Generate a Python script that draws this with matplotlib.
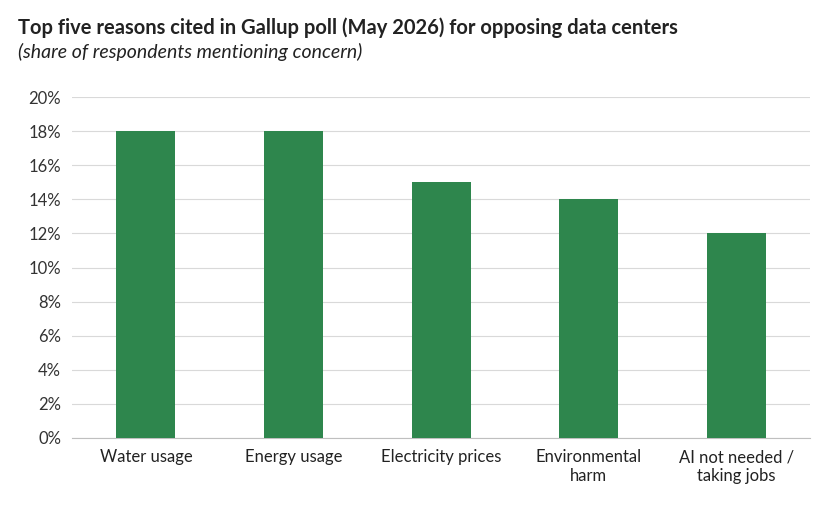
import matplotlib.pyplot as plt

reasons = ["Water usage", "Energy usage", "Electricity prices",
           "Environmental\nharm", "AI not needed /\ntaking jobs"]
shares = [18, 18, 15, 14, 12]
yticks = list(range(0, 21, 2))

plt.rcParams["font.family"] = ["Lato", "DejaVu Sans"]

fig = plt.figure(figsize=(8.2, 5.11), dpi=100)
ax = fig.add_axes([0.088, 0.143, 0.9, 0.667])
ax.bar(range(len(reasons)), shares, width=0.4, color="#2e864d", zorder=3)
ax.set_xlim(-0.5, len(reasons) - 0.5)
ax.set_ylim(0, 20)
ax.set_yticks(yticks)
ax.set_yticklabels([f"{v}%" for v in yticks], fontsize=12, color="#333333")
ax.set_xticks(range(len(reasons)))
ax.set_xticklabels(reasons, fontsize=12, color="#222222")
ax.grid(axis="y", color="#d9d9d9", lw=0.8, zorder=0)
for s in ["top", "right", "left"]:
    ax.spines[s].set_visible(False)
ax.spines["bottom"].set_color("#bfbfbf")
ax.tick_params(axis="both", length=0, pad=8)

fig.text(0.022, 0.945, "Top five reasons cited in Gallup poll (May 2026) for opposing data centers",
         fontsize=14.5, fontweight="bold", color="#222222", va="center")
fig.text(0.022, 0.898, "(share of respondents mentioning concern)",
         fontsize=14, style="italic", color="#222222", va="center")

fig.savefig("out.png")
